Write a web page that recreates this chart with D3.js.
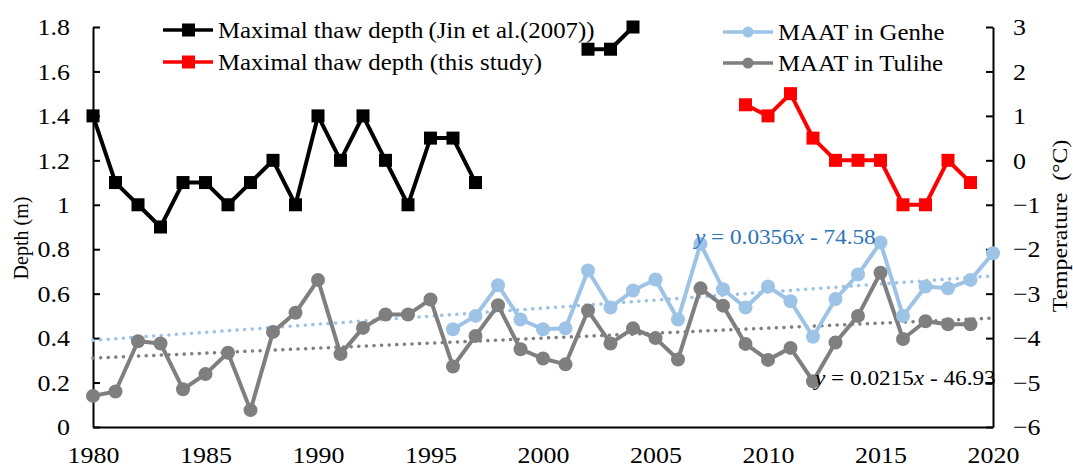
<!DOCTYPE html>
<html>
<head>
<meta charset="utf-8">
<script src="https://cdn.jsdelivr.net/npm/d3@7"></script>
<style>
  body { margin: 0; background: #fff; }
  svg text { font-family: "Liberation Serif", "Times New Roman", serif; }
</style>
</head>
<body>
<div id="chart"></div>
<script>
// depth series (m)
const jinYears  = [1980, 1981, 1982, 1983, 1984, 1985, 1986, 1987, 1988, 1989, 1990, 1991, 1992, 1993, 1994, 1995, 1996, 1997, null, 2002, 2003, 2004];
const jinDepth  = [1.4, 1.1, 1.0, 0.9, 1.1, 1.1, 1.0, 1.1, 1.2, 1.0, 1.4, 1.2, 1.4, 1.2, 1.0, 1.3, 1.3, 1.1, null, 1.7, 1.7, 1.8];
const studyYears = [2009, 2010, 2011, 2012, 2013, 2014, 2015, 2016, 2017, 2018, 2019];
const studyDepth = [1.45, 1.4, 1.5, 1.3, 1.2, 1.2, 1.2, 1.0, 1.0, 1.2, 1.1];

// temperature series (°C)
const tulYears = d3.range(1980, 2020);
const tulTemp  = [-5.30, -5.20, -4.07, -4.12, -5.15, -4.81, -4.33, -5.62, -3.86, -3.43,
                  -2.69, -4.36, -3.77, -3.47, -3.47, -3.13, -4.64, -3.95, -3.26, -4.25,
                  -4.46, -4.59, -3.38, -4.12, -3.78, -4.00, -4.48, -2.88, -3.27, -4.13,
                  -4.49, -4.22, -4.97, -4.10, -3.50, -2.53, -4.02, -3.62, -3.69, -3.69];
const genYears = d3.range(1996, 2021);
const genTemp  = [-3.80, -3.50, -2.81, -3.58, -3.80, -3.78, -2.48, -3.31, -2.93, -2.68,
                  -3.58, -1.88, -2.90, -3.31, -2.84, -3.17, -3.97, -3.12, -2.57, -1.85,
                  -3.50, -2.84, -2.88, -2.69, -2.09];

// linear trend end points
const trendYears = [1980, 2020];
const genTrend = [-4.05, -2.60];
const tulTrend = [-4.45, -3.55];

const depthTicks = [0, 0.2, 0.4, 0.6, 0.8, 1, 1.2, 1.4, 1.6, 1.8];
const tempTicks  = [-6, -5, -4, -3, -2, -1, 0, 1, 2, 3];
const yearTicks  = [1980, 1985, 1990, 1995, 2000, 2005, 2010, 2015, 2020];

const W = 1073, H = 468;
const m = { left: 93, right: 993, top: 27, bottom: 427 };
const SX = 1.08; // the source font runs a little wide
const SERIF = "'Liberation Serif', 'Times New Roman', serif";

const svg = d3.select("#chart").append("svg")
  .attr("width", W).attr("height", H);

const x  = d3.scaleLinear().domain([1980, 2020]).range([m.left, m.right]);
const yD = d3.scaleLinear().domain([0, 1.8]).range([m.bottom, m.top]);
const yT = d3.scaleLinear().domain([-6, 3]).range([m.bottom, m.top]);

const BLUE = "#9dc3e6", GRAY = "#7f7f7f";

// axes
const axL = svg.append("g").attr("transform", `translate(${m.left},0)`)
  .call(d3.axisLeft(yD).tickValues(depthTicks).tickSizeInner(-7).tickSizeOuter(0)
    .tickFormat(d => d3.format("~g")(d)));
const axR = svg.append("g").attr("transform", `translate(${m.right},0)`)
  .call(d3.axisRight(yT).tickValues(tempTicks).tickSizeInner(-7).tickSizeOuter(0));
const axB = svg.append("g").attr("transform", `translate(0,${m.bottom})`)
  .call(d3.axisBottom(x).tickValues(yearTicks).tickSize(0).tickPadding(19)
    .tickFormat(d3.format("d")));
[axL, axR, axB].forEach(g => {
  g.attr("font-family", SERIF);
  g.selectAll("path, line").attr("stroke", "#000").attr("stroke-width", 2);
  g.selectAll("text").attr("font-size", 24).attr("fill", "#000")
    .style("font-family", SERIF)
    .attr("transform", `scale(${SX},1)`);
});
axL.selectAll("text").attr("x", -23 / SX);
axR.selectAll("text").attr("x", 20 / SX).attr("text-anchor", "start");

// axis titles
svg.append("text").attr("transform", `translate(28,238) rotate(-90)`)
  .style("font-family", SERIF)
  .attr("text-anchor", "middle").attr("font-size", 20).text("Depth (m)");
svg.append("text").attr("transform", `translate(1067,226) rotate(-90) scale(${SX},1)`)
  .style("font-family", SERIF)
  .attr("text-anchor", "middle").attr("font-size", 22).text("Temperature\u00a0\u00a0(\u00b0C)");

// trend lines
function trend(vals, color) {
  svg.append("path")
    .datum(trendYears.map((t, i) => [t, vals[i]]))
    .attr("d", d3.line().x(d => x(d[0])).y(d => yT(d[1])))
    .attr("fill", "none").attr("stroke", color).attr("stroke-width", 3.5)
    .attr("stroke-linecap", "round").attr("stroke-dasharray", "0.1 7.5");
}
trend(genTrend, BLUE);
trend(tulTrend, GRAY);

// series
function series(xs, ys, yScale, color, shape) {
  const pts = xs.map((t, i) => ({ t, v: ys[i] }));
  svg.append("path").datum(pts)
    .attr("d", d3.line().defined(d => d.t != null).x(d => x(d.t)).y(d => yScale(d.v)))
    .attr("fill", "none").attr("stroke", color).attr("stroke-width", 4)
    .attr("stroke-linejoin", "round");
  const valid = pts.filter(d => d.t != null);
  if (shape === "square") {
    svg.append("g").selectAll("rect").data(valid).join("rect")
      .attr("x", d => x(d.t) - 6.5).attr("y", d => yScale(d.v) - 6.5)
      .attr("width", 13).attr("height", 13).attr("fill", color);
  } else {
    svg.append("g").selectAll("circle").data(valid).join("circle")
      .attr("cx", d => x(d.t)).attr("cy", d => yScale(d.v))
      .attr("r", 7).attr("fill", color);
  }
}
series(tulYears, tulTemp, yT, GRAY, "circle");
series(genYears, genTemp, yT, BLUE, "circle");
series(jinYears, jinDepth, yD, "#000", "square");
series(studyYears, studyDepth, yD, "#ff0000", "square");

// trend equations
function equation(px, py, slope, icpt, color) {
  const t = svg.append("text")
    .attr("transform", `translate(${px},${py}) scale(${SX},1)`)
    .style("font-family", SERIF)
    .attr("font-size", 21.5).attr("fill", color);
  t.append("tspan").attr("font-style", "italic").text("y");
  t.append("tspan").text(` = ${slope}`);
  t.append("tspan").attr("font-style", "italic").text("x");
  t.append("tspan").text(` - ${icpt}`);
}
equation(695, 244, "0.0356", "74.58", "#2e75b6");
equation(815, 385, "0.0215", "46.93", "#000");

// legend
const legend = [
  { x: 163, y: 30, color: "#000", shape: "square", label: "Maximal thaw depth\u2009(Jin et al.(2007))" },
  { x: 163, y: 62, color: "#ff0000", shape: "square", label: "Maximal thaw depth (this study)" },
  { x: 723, y: 32, color: BLUE, shape: "circle", label: "MAAT in Genhe" },
  { x: 723, y: 63, color: GRAY, shape: "circle", label: "MAAT in Tulihe" }
];
const lg = svg.append("g").selectAll("g").data(legend).join("g")
  .attr("transform", d => `translate(${d.x},${d.y})`);
lg.append("line").attr("x1", 0).attr("x2", 50)
  .attr("stroke", d => d.color).attr("stroke-width", 3.5);
lg.filter(d => d.shape === "square").append("rect")
  .attr("x", 19).attr("y", -6.5).attr("width", 13).attr("height", 13)
  .attr("fill", d => d.color);
lg.filter(d => d.shape === "circle").append("circle")
  .attr("cx", 25).attr("r", 5.5).attr("fill", d => d.color);
lg.append("text").attr("transform", `translate(55,0) scale(${SX},1)`)
  .style("font-family", SERIF)
  .attr("dy", "0.33em").attr("font-size", 23).text(d => d.label);
</script>
</body>
</html>
